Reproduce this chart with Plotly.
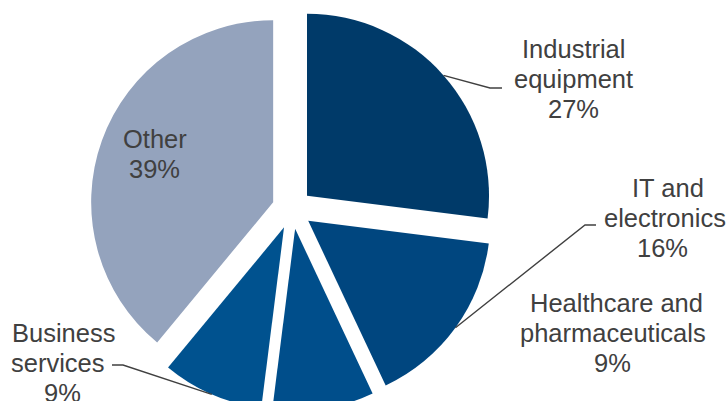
import math
import plotly.graph_objects as go

# Sector shares (%)
sectors = ["Industrial equipment", "IT and electronics",
           "Healthcare and pharmaceuticals", "Business services", "Other"]
shares = [27, 16, 9, 9, 39]
colors = ["#003a69", "#00467f", "#004e8b", "#00528f", "#94a3bd"]

# Text shown for each sector (the percentage line is added from the share)
label_lines = [["Industrial", "equipment"],
               ["IT and", "electronics"],
               ["Healthcare and", "pharmaceuticals"],
               ["Business", "services"],
               ["Other"]]

# ---- layout (pixels) ----
W, H = 728, 420
CX, CY, R, PULL = 292.0, 209.0, 182.0, 0.11
FONT = "Liberation Sans, Arial, sans-serif"
FSIZE = 25.5
TEXT_COLOR = "#404040"
LINE_GAP = 30.0

# label placement: per-line x centres and first baseline
label_pos = [
    ([573, 573, 573], 58),
    ([668, 665, 662], 197),
    ([616, 613, 612], 312),
    ([63, 58, 62], 342),
    ([155, 154], 148),
]
# leader line elbows (None = no leader)
elbows = [
    [(490, 88), (502, 88)],
    [(585, 225), (596, 225)],
    None,
    [(123, 365), (112, 365)],
    None,
]


def px(x):
    return x / W


def py(y):
    return 1 - y / H


ry = R * (1 + PULL)
dom_y = [1 - (CY + ry) / H, 1 - (CY - ry) / H]
dom_x = [(CX - ry - 10) / W, (CX + ry + 10) / W]

fig = go.Figure(go.Pie(
    labels=sectors,
    values=shares,
    sort=False,
    direction="clockwise",
    rotation=0,
    pull=[PULL] * len(shares),
    marker=dict(colors=colors, line=dict(width=0)),
    textinfo="none",
    hoverinfo="label+percent",
    domain=dict(x=dom_x, y=dom_y),
    showlegend=False,
))

annotations = []
shapes = []
total = sum(shares)
cum = 0
for i, v in enumerate(shares):
    lines = label_lines[i] + [f"{v}%"]
    xs, b0 = label_pos[i]
    for k, t in enumerate(lines):
        base = b0 + k * LINE_GAP
        annotations.append(dict(
            x=px(xs[k]), y=py(base - 0.3465 * FSIZE),
            xref="paper", yref="paper", xanchor="center", yanchor="middle",
            text=t, showarrow=False,
            font=dict(family=FONT, size=FSIZE, color=TEXT_COLOR),
        ))
    theta = math.radians(360 * (cum + v / 2) / total)
    cum += v
    if elbows[i]:
        ax = CX + R * (1 + PULL) * math.sin(theta)
        ay = CY - R * (1 + PULL) * math.cos(theta)
        pts = [(ax, ay)] + elbows[i]
        path = "M " + " L ".join(f"{px(x):.5f},{py(y):.5f}" for x, y in pts)
        shapes.append(dict(type="path", xref="paper", yref="paper", path=path,
                           line=dict(color=TEXT_COLOR, width=1.4)))

fig.update_layout(
    width=W, height=H,
    margin=dict(l=0, r=0, t=0, b=0),
    paper_bgcolor="white",
    plot_bgcolor="white",
    annotations=annotations,
    shapes=shapes,
)

fig.write_html(
    "out.html",
    config={"displayModeBar": False},
    post_script="document.documentElement.style.overflow='hidden';"
                "document.body.style.overflow='hidden';document.body.style.margin='0';",
)
